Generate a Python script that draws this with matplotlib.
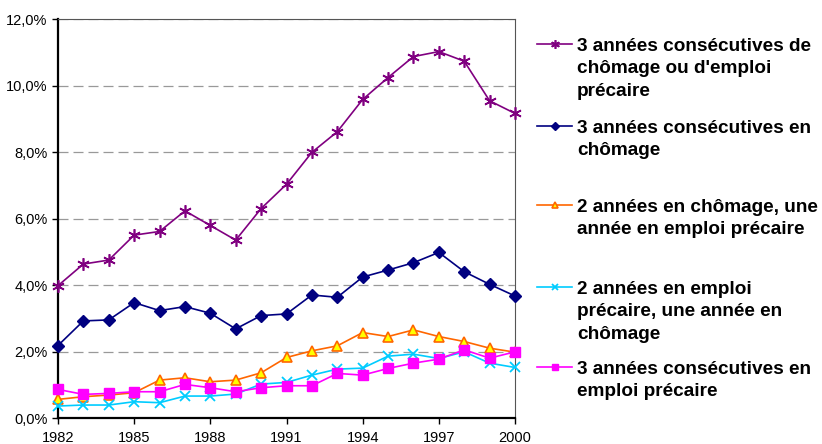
import matplotlib.pyplot as plt
from matplotlib.lines import Line2D
from matplotlib.ticker import FuncFormatter

years = list(range(1982, 2001))

# part of people, in %
chomage_ou_precaire = [3.98, 4.63, 4.75, 5.50, 5.61, 6.23, 5.79, 5.35, 6.30, 7.03,
                       7.99, 8.61, 9.58, 10.24, 10.87, 11.02, 10.73, 9.54, 9.16]
trois_chomage = [2.18, 2.92, 2.95, 3.47, 3.23, 3.35, 3.15, 2.68, 3.08, 3.13,
                 3.70, 3.63, 4.24, 4.45, 4.67, 4.98, 4.40, 4.02, 3.67]
deux_chomage_un_precaire = [0.56, 0.64, 0.69, 0.76, 1.14, 1.21, 1.09, 1.14, 1.36, 1.82,
                            2.02, 2.17, 2.57, 2.45, 2.65, 2.45, 2.30, 2.10, 1.98]
deux_precaire_un_chomage = [0.36, 0.39, 0.39, 0.49, 0.46, 0.66, 0.66, 0.72, 1.02, 1.07,
                            1.29, 1.47, 1.50, 1.86, 1.92, 1.79, 1.99, 1.65, 1.52]
trois_precaire = [0.86, 0.71, 0.74, 0.79, 0.79, 1.01, 0.91, 0.79, 0.91, 0.97,
                  0.97, 1.34, 1.29, 1.49, 1.65, 1.77, 2.05, 1.80, 1.99]

labels = [
    "3 années consécutives de\nchômage ou d'emploi\nprécaire",
    "3 années consécutives en\nchômage",
    "2 années en chômage, une\nannée en emploi précaire",
    "2 années en emploi\nprécaire, une année en\nchômage",
    "3 années consécutives en\nemploi précaire",
]

plt.rcParams['font.family'] = ['Liberation Sans', 'DejaVu Sans']

fig = plt.figure(figsize=(8.22, 4.44), dpi=100)
W, H = 822, 444
ax = fig.add_axes([58 / W, 1 - 418 / H, (515 - 58) / W, (418 - 19) / H])

styles = [
    dict(color='#800080', marker=(6, 2, 0), ms=9, mew=1.2, mfc='#800080', mec='#800080'),
    dict(color='#000080', marker='D', ms=6, mfc='#000080', mec='#000080'),
    dict(color='#FF6600', marker='^', ms=7, mfc='#FFFF00', mec='#FF6600', mew=1.2),
    dict(color='#00CCFF', marker='x', ms=7, mew=1.3, mec='#00CCFF'),
    dict(color='#FF00FF', marker='s', ms=6.5, mfc='#FF00FF', mec='#FF00FF'),
]
series = [chomage_ou_precaire, trois_chomage, deux_chomage_un_precaire,
          deux_precaire_un_chomage, trois_precaire]

for vals, st in zip(series, styles):
    ax.plot(years, vals, lw=1.2, clip_on=False, zorder=3, **st)

ax.set_xlim(1982, 2000)
ax.set_ylim(0, 12)
ax.set_xticks(range(1982, 2001, 3))
ax.set_yticks(range(0, 13, 2))
ax.yaxis.set_major_formatter(FuncFormatter(lambda v, p: f"{v:.1f}%".replace('.', ',')))
ax.tick_params(labelsize=10.5, length=4, width=1, direction='out', colors='black')
ax.tick_params(axis='x', pad=5)
ax.grid(axis='y', color='#999999', linestyle=(0, (8, 4)), lw=0.9)
ax.set_axisbelow(True)
for s in ['left', 'bottom']:
    ax.spines[s].set_linewidth(1.6)
    ax.spines[s].set_color('black')
for s in ['top', 'right']:
    ax.spines[s].set_linewidth(0.8)
    ax.spines[s].set_color('#555555')

# legend drawn by hand, entries spaced like the original
legend_y = [44, 126, 205, 287, 367]
for y, lab, st in zip(legend_y, labels, styles):
    fy = 1 - y / H
    st2 = dict(st)
    st2['ms'] = st2['ms'] * 0.7
    fig.add_artist(Line2D([537 / W, 554.5 / W, 572 / W], [fy, fy, fy], lw=1.2,
                          transform=fig.transFigure, markevery=[1], **st2))
    fig.text(577 / W, fy + 6 / H, lab, fontsize=13.7, fontweight='bold',
             va='top', ha='left', linespacing=1.42)

fig.savefig('out.png', dpi=100)
